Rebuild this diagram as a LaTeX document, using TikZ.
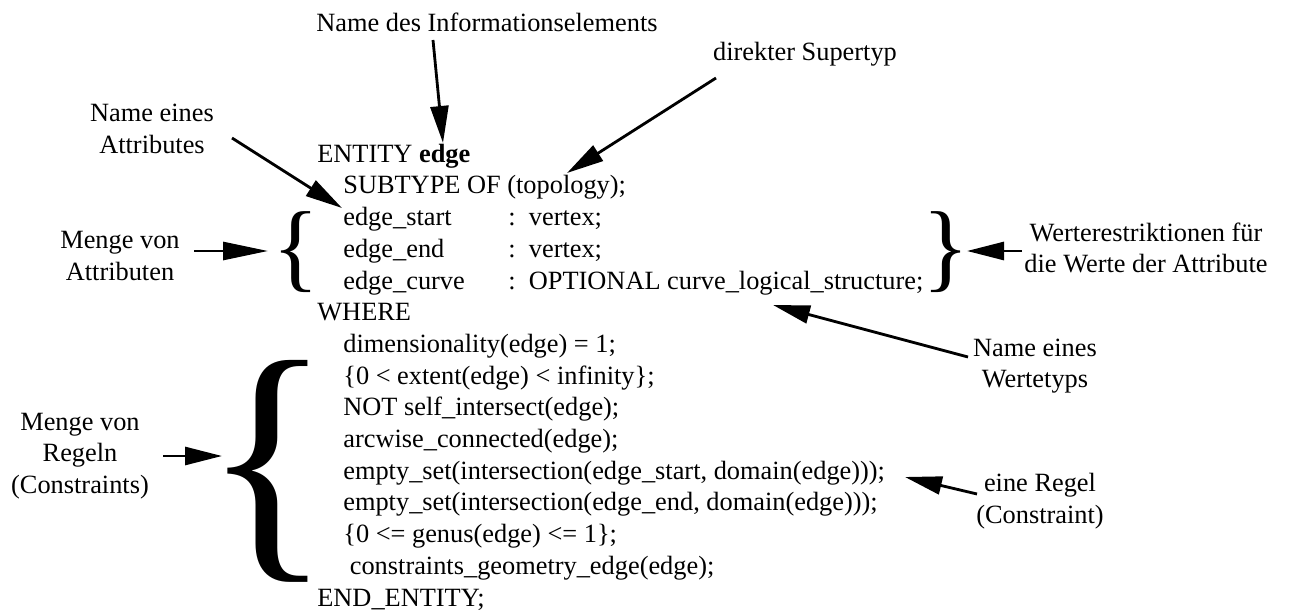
\documentclass[tikz,border=0pt]{standalone}
\usepackage{fontspec}
\setmainfont{Liberation Serif}
\usepackage{graphicx}
\usetikzlibrary{arrows.meta}

\tikzset{
    codeline/.style={anchor=base west, inner sep=0pt, font=\fontsize{15}{18}\selectfont},
    note/.style={align=center, inner sep=0pt, font=\fontsize{15}{18}\selectfont},
    brace/.style={inner sep=0pt, font=\fontsize{15}{18}\selectfont},
    pointer/.style={line width=1.6pt, -{Triangle[length=0.74cm,width=0.36cm]}}
}

\begin{document}
\begin{tikzpicture}
        \useasboundingbox (0,0) rectangle (25.8,-12.3);

        % the EXPRESS text
        \node[codeline] (l0) at (6.34,-3.24) {ENTITY \textbf{edge}};
        \node[codeline] (l1) at (6.86,-3.87) {SUBTYPE OF (topology);};
        \node[codeline] (l2) at (6.86,-4.51) {\makebox[3.3cm][l]{edge\_start}:\ \ vertex;};
        \node[codeline] (l3) at (6.86,-5.14) {\makebox[3.3cm][l]{edge\_end}:\ \ vertex;};
        \node[codeline] (l4) at (6.86,-5.78) {\makebox[3.3cm][l]{edge\_curve}:\ \ OPTIONAL curve\_logical\_structure;};
        \node[codeline] (l5) at (6.34,-6.41) {WHERE};
        \node[codeline] (l6) at (6.86,-7.04) {dimensionality(edge) = 1;};
        \node[codeline] (l7) at (6.86,-7.68) {\{0 < extent(edge) < infinity\};};
        \node[codeline] (l8) at (6.86,-8.31) {NOT self\_intersect(edge);};
        \node[codeline] (l9) at (6.86,-8.95) {arcwise\_connected(edge);};
        \node[codeline] (l10) at (6.86,-9.58) {empty\_set(intersection(edge\_start, domain(edge)));};
        \node[codeline] (l11) at (6.86,-10.21) {empty\_set(intersection(edge\_end, domain(edge)));};
        \node[codeline] (l12) at (6.86,-10.85) {\{0 <= genus(edge) <= 1\};};
        \node[codeline] (l13) at (6.99,-11.48) {constraints\_geometry\_edge(edge);};
        \node[codeline] (l14) at (6.34,-12.12) {END\_ENTITY;};

        % braces
        \node[brace] (lb) at (5.91,-5.05) {\resizebox*{!}{1.62cm}{\{}};
        \node[brace] (rb) at (18.91,-5.05) {\resizebox*{!}{1.62cm}{\}}};
        \node[brace] (bb) at (5.36,-9.42) {\resizebox*{!}{4.44cm}{\{}};

        % explanations
        \node[note, anchor=base] (info) at (9.74,-0.64) {Name des Informationselements};
        \node[note, anchor=base] (super) at (16.10,-1.22) {direkter Supertyp};
        \node[note] (attname) at (3.04,-2.58) {Name eines\\Attributes};
        \node[note] (attset) at (2.40,-5.12) {Menge von\\Attributen};
        \node[note] (werte) at (22.92,-4.96) {Werterestriktionen für\\die Werte der Attribute};
        \node[note] (typname) at (20.70,-7.32) {Name eines\\Wertetyps};
        \node[note] (regeln) at (1.60,-9.12) {Menge von\\Regeln\\(Constraints)};
        \node[note] (regel) at (20.80,-10.02) {eine Regel\\(Constraint)};

        % arrow ends
        \coordinate (infoT) at (8.66,-0.80);
        \coordinate (infoH) at (8.86,-2.86);
        \coordinate (superT) at (14.32,-1.56);
        \coordinate (superH) at (11.34,-3.46);
        \coordinate (attnameT) at (4.64,-2.76);
        \coordinate (attnameH) at (6.84,-4.16);
        \coordinate (attsetT) at (3.88,-5.02);
        \coordinate (attsetH) at (5.36,-5.02);
        \coordinate (werteT) at (20.44,-5.02);
        \coordinate (werteH) at (19.34,-5.02);
        \coordinate (typnameT) at (19.36,-7.14);
        \coordinate (typnameH) at (15.46,-6.10);
        \coordinate (regelnT) at (3.26,-9.12);
        \coordinate (regelnH) at (4.44,-9.12);
        \coordinate (regelT) at (19.54,-9.88);
        \coordinate (regelH) at (18.10,-9.54);

        \draw[pointer] (infoT) -- (infoH);
        \draw[pointer] (superT) -- (superH);
        \draw[pointer] (attnameT) -- (attnameH);
        \draw[pointer, -{Triangle[length=0.9cm,width=0.36cm]}] (attsetT) -- (attsetH);
        \draw[pointer] (werteT) -- (werteH);
        \draw[pointer] (typnameT) -- (typnameH);
        \draw[pointer] (regelnT) -- (regelnH);
        \draw[pointer] (regelT) -- (regelH);

    \end{tikzpicture}
\end{document}
